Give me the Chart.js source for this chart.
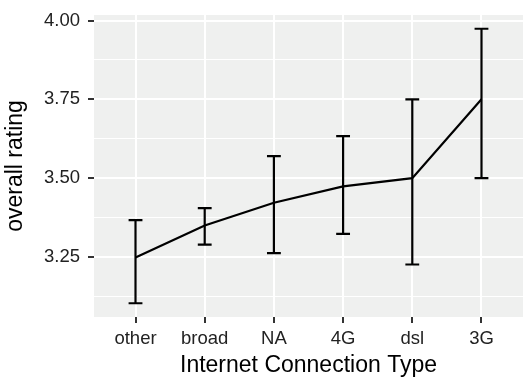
<!DOCTYPE html>
<html>
<head>
<meta charset="utf-8">
<script src="https://cdn.jsdelivr.net/npm/chart.js@4/dist/chart.umd.min.js"></script>
<style>
  html, body { margin: 0; padding: 0; background: #ffffff; }
  canvas { display: block; }
</style>
</head>
<body>
<canvas id="chart" width="530" height="377"></canvas>
<script>
// Mean overall rating by internet connection type, with interval bounds
const categories  = ['other', 'broad', 'NA', '4G', 'dsl', '3G'];
const meanRating  = [3.248, 3.350, 3.422, 3.474, 3.500, 3.750];
const lowerRating = [3.103, 3.289, 3.262, 3.323, 3.226, 3.500];
const upperRating = [3.367, 3.405, 3.570, 3.633, 3.750, 3.974];
const yMajorTicks = [3.25, 3.50, 3.75, 4.00];
const yMinorTicks = [3.125, 3.375, 3.625, 3.875];

const FONT = 'Liberation Sans, Arial, Helvetica, sans-serif';
const LINE_W = 2.2;

// y range: data extent plus 5% on each side
const yLo = Math.min(...lowerRating);
const yHi = Math.max(...upperRating);
const yPad = (yHi - yLo) * 0.05;

const isMajorY = v => yMajorTicks.some(t => Math.abs(t - v) < 1e-9);

const panelBackground = {
  id: 'panelBackground',
  beforeDraw(chart) {
    const { ctx, chartArea: a } = chart;
    ctx.save();
    ctx.fillStyle = '#eff0ef';
    ctx.fillRect(a.left, a.top, a.right - a.left, a.bottom - a.top);
    ctx.restore();
  }
};

const errorBars = {
  id: 'errorBars',
  afterDatasetsDraw(chart) {
    const { ctx } = chart;
    const xs = chart.scales.x, ys = chart.scales.y;
    ctx.save();
    ctx.strokeStyle = '#000000';
    ctx.lineWidth = LINE_W;
    ctx.lineCap = 'butt';
    categories.forEach((_, i) => {
      const x = xs.getPixelForValue(i);
      const xl = xs.getPixelForValue(i - 0.1);
      const xr = xs.getPixelForValue(i + 0.1);
      const yl = ys.getPixelForValue(lowerRating[i]);
      const yu = ys.getPixelForValue(upperRating[i]);
      ctx.beginPath();
      ctx.moveTo(x, yl); ctx.lineTo(x, yu);
      ctx.moveTo(xl, yl); ctx.lineTo(xr, yl);
      ctx.moveTo(xl, yu); ctx.lineTo(xr, yu);
      ctx.stroke();
    });
    ctx.restore();
  }
};

new Chart(document.getElementById('chart'), {
  type: 'line',
  data: {
    datasets: [{
      data: meanRating.map((y, i) => ({ x: i, y })),
      borderColor: '#000000',
      borderWidth: LINE_W,
      pointRadius: 0,
      tension: 0,
      fill: false
    }]
  },
  options: {
    responsive: false,
    animation: false,
    layout: { padding: { top: 15, right: 7, left: 0, bottom: 0 } },
    plugins: { legend: { display: false }, tooltip: { enabled: false } },
    scales: {
      x: {
        type: 'linear',
        min: -0.6,
        max: categories.length - 1 + 0.6,
        afterBuildTicks(scale) {
          scale.ticks = categories.map((_, i) => ({ value: i }));
        },
        afterFit(scale) {
          scale.height = 60;
          scale.paddingLeft = 0;
          scale.paddingRight = 0;
        },
        ticks: {
          autoSkip: false,
          maxRotation: 0,
          padding: 5,
          color: '#222222',
          font: { family: FONT, size: 18.5 },
          callback: v => categories[v]
        },
        grid: {
          color: '#ffffff',
          lineWidth: 2,
          tickLength: 6,
          tickColor: '#333333',
          tickWidth: 2
        },
        border: { display: false },
        title: {
          display: true,
          text: 'Internet Connection Type',
          color: '#000000',
          font: { family: FONT, size: 23, lineHeight: 1 },
          padding: { top: 0, bottom: 0 }
        }
      },
      y: {
        type: 'linear',
        min: yLo - yPad,
        max: yHi + yPad,
        afterBuildTicks(scale) {
          scale.ticks = [...yMinorTicks, ...yMajorTicks]
            .sort((a, b) => a - b)
            .map(v => ({ value: v }));
        },
        afterFit(scale) {
          scale.width = 94;
          scale.paddingTop = 0;
          scale.paddingBottom = 0;
        },
        ticks: {
          padding: 8,
          color: '#222222',
          font: { family: FONT, size: 18.5 },
          callback: v => isMajorY(v) ? v.toFixed(2) : ''
        },
        grid: {
          color: '#ffffff',
          lineWidth: ctx => isMajorY(ctx.tick.value) ? 2 : 1,
          tickLength: 6,
          tickColor: ctx => isMajorY(ctx.tick.value) ? '#333333' : 'rgba(0,0,0,0)',
          tickWidth: 2
        },
        border: { display: false },
        title: {
          display: true,
          text: 'overall rating',
          color: '#000000',
          font: { family: FONT, size: 23 },
          padding: { top: 2, bottom: 0 }
        }
      }
    }
  },
  plugins: [panelBackground, errorBars]
});
</script>
</body>
</html>
